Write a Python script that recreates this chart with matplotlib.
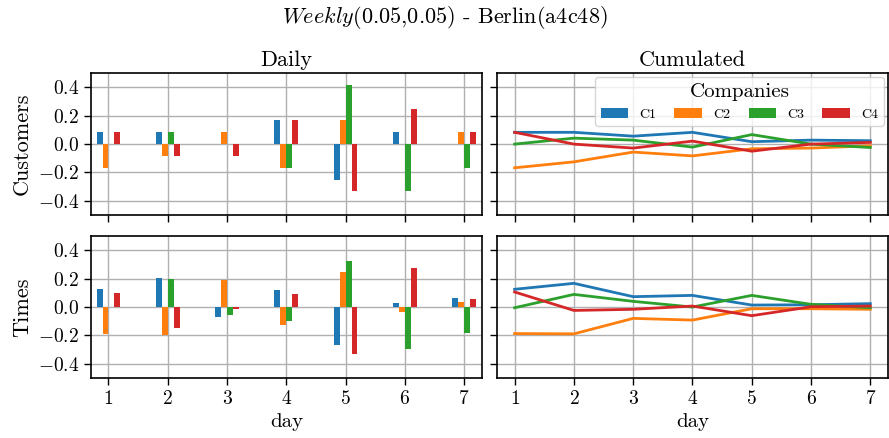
import numpy as np
import matplotlib
matplotlib.use("Agg")
import matplotlib.pyplot as plt

plt.rcParams['font.family'] = 'serif'
plt.rcParams['font.serif'] = ['cmr10']
plt.rcParams['mathtext.fontset'] = 'cm'
plt.rcParams['axes.formatter.use_mathtext'] = True
plt.rcParams['axes.unicode_minus'] = True

days = [1, 2, 3, 4, 5, 6, 7]
companies = ['C1', 'C2', 'C3', 'C4']
colors = ['#1f77b4', '#ff7f0e', '#2ca02c', '#d62728']

# daily deviations per company
cust_daily = {
    'C1': [0.083, 0.083, 0.0, 0.167, -0.25, 0.083, 0.0],
    'C2': [-0.167, -0.083, 0.083, -0.167, 0.167, 0.0, 0.083],
    'C3': [0.0, 0.083, 0.0, -0.167, 0.417, -0.333, -0.167],
    'C4': [0.083, -0.083, -0.083, 0.167, -0.333, 0.25, 0.083],
}
times_daily = {
    'C1': [0.124, 0.207, -0.071, 0.12, -0.267, 0.029, 0.064],
    'C2': [-0.19, -0.198, 0.19, -0.124, 0.245, -0.038, 0.033],
    'C3': [0.0, 0.195, -0.057, -0.1, 0.326, -0.293, -0.186],
    'C4': [0.10, -0.145, -0.014, 0.09, -0.333, 0.276, 0.057],
}

# cumulated values
cust_cum = {
    'C1': [0.083, 0.083, 0.056, 0.083, 0.017, 0.028, 0.024],
    'C2': [-0.167, -0.125, -0.056, -0.083, -0.033, -0.028, -0.012],
    'C3': [0.0, 0.042, 0.028, -0.021, 0.067, 0.0, -0.024],
    'C4': [0.083, 0.0, -0.028, 0.021, -0.05, 0.0, 0.012],
}
times_cum = {
    'C1': [0.125, 0.167, 0.073, 0.082, 0.014, 0.016, 0.024],
    'C2': [-0.187, -0.189, -0.08, -0.092, -0.012, -0.012, -0.016],
    'C3': [-0.005, 0.089, 0.04, 0.0, 0.082, 0.019, -0.005],
    'C4': [0.106, -0.024, -0.016, 0.007, -0.061, 0.002, 0.007],
}

rows = [('Customers', cust_daily, cust_cum), ('Times', times_daily, times_cum)]

fig, axes = plt.subplots(2, 2, figsize=(8.89, 4.38), dpi=100, sharex=True, sharey=True)
fig.subplots_adjust(left=0.102, right=0.999, bottom=0.137, top=0.833,
                    wspace=0.038, hspace=0.148)

x = np.array(days)
w = 0.1
bars = []
for r, (name, daily, cum) in enumerate(rows):
    axd, axc = axes[r]
    for i, c in enumerate(companies):
        b = axd.bar(x + (i - 1.5) * w, daily[c], width=w, color=colors[i], label=c, zorder=3)
        if r == 0:
            bars.append(b)
        axc.plot(x, cum[c], color=colors[i], lw=2, zorder=3)
    axd.set_ylabel(name, fontsize=16)

for ax in axes.flat:
    ax.grid(True, color='#b0b0b0', lw=1, zorder=0)
    ax.set_axisbelow(True)
    ax.tick_params(labelsize=14, length=5, width=1)
    for s in ax.spines.values():
        s.set_linewidth(1.2)

axes[0, 0].set_xlim(0.7, 7.3)
axes[0, 0].set_ylim(-0.5, 0.5)
axes[0, 0].set_yticks([-0.4, -0.2, 0.0, 0.2, 0.4])
axes[0, 0].set_xticks(days)

axes[0, 0].set_title('Daily', fontsize=16, pad=5)
axes[0, 1].set_title('Cumulated', fontsize=16, pad=5)
axes[1, 0].set_xlabel('day', fontsize=15)
axes[1, 1].set_xlabel('day', fontsize=15)

axes[0, 1].legend(bars, companies, loc='upper right', ncol=4, title='Companies',
                  fontsize=10, title_fontsize=15, handlelength=2.0,
                  borderaxespad=0.3, columnspacing=1.3)

fig.suptitle('$Weekly$(0.05,0.05) - Berlin(a4c48)', fontsize=16, y=0.99)

fig.savefig('out.png', dpi=100)
